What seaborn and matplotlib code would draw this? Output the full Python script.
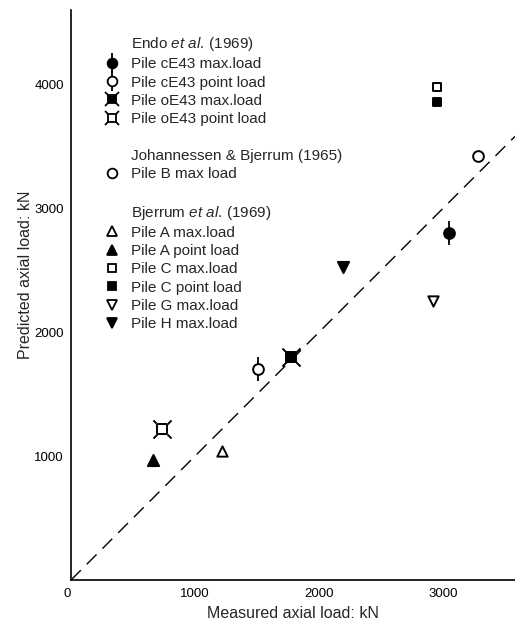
import matplotlib
matplotlib.use("Agg")
import matplotlib.pyplot as plt
import seaborn as sns
import pandas as pd
from matplotlib.lines import Line2D
from matplotlib.legend_handler import HandlerTuple

sns.set_style("white")
plt.rcParams['font.family'] = ['Liberation Sans', 'DejaVu Sans']
plt.rcParams['mathtext.fontset'] = 'custom'
plt.rcParams['mathtext.it'] = 'Liberation Sans:italic'
plt.rcParams['mathtext.rm'] = 'Liberation Sans'

# ---- data ----
series = ["Pile cE43 max.load", "Pile cE43 point load", "Pile oE43 max.load",
          "Pile oE43 point load", "Pile B max load", "Pile A max.load",
          "Pile A point load", "Pile C max.load", "Pile C point load",
          "Pile G max.load", "Pile H max.load"]
measured = [3050, 1510, 1770, 730, 3280, 1220, 660, 2950, 2950, 2920, 2190]
predicted = [2800, 1700, 1800, 1220, 3420, 1040, 970, 3980, 3860, 2250, 2530]
line_x = [0, 3580]
line_y = [0, 3580]
x_ticks = [0, 1000, 2000, 3000]
y_ticks = [1000, 2000, 3000, 4000]
headers = ["Endo $\\mathit{et\\ al.}\\,$(1969)", "Johannessen & Bjerrum (1965)",
           "Bjerrum $\\mathit{et\\ al.}\\,$(1969)"]

df = pd.DataFrame({"series": series, "measured": measured, "predicted": predicted})

# marker styles: (marker, face, overlay marker or None, size)
styles = {
    "Pile cE43 max.load": ("o", "black", "|", 60),
    "Pile cE43 point load": ("o", "white", "|", 60),
    "Pile oE43 max.load": ("s", "black", "x", 60),
    "Pile oE43 point load": ("s", "white", "x", 45),
    "Pile B max load": ("o", "white", None, 60),
    "Pile A max.load": ("^", "white", None, 55),
    "Pile A point load": ("^", "black", None, 65),
    "Pile C max.load": ("s", "white", None, 36),
    "Pile C point load": ("s", "black", None, 36),
    "Pile G max.load": ("v", "white", None, 55),
    "Pile H max.load": ("v", "black", None, 65),
}

fig = plt.figure(figsize=(5.15, 6.22), dpi=100)
ax = fig.add_axes([71/515, 1-580/622, 1-71/515, (580-10)/622])

sns.lineplot(x=line_x, y=line_y, ax=ax, color="black", lw=1.0,
             dashes=False, linestyle=(0, (10, 6)))

for name in series:
    m, face, ov, s = styles[name]
    sub = df[df.series == name]
    if ov == "|":
        sns.scatterplot(data=sub, x="measured", y="predicted", ax=ax, marker="|",
                        s=280, color="black", linewidth=1.3, zorder=3)
    if ov == "x":
        sns.scatterplot(data=sub, x="measured", y="predicted", ax=ax, marker="x",
                        s=170, color="black", linewidth=1.4, zorder=3)
    if ov == "x" and face == "white":
        sns.scatterplot(data=sub, x="measured", y="predicted", ax=ax, marker="s",
                        s=75, facecolor="white", edgecolor="white", linewidth=0, zorder=4)
    sns.scatterplot(data=sub, x="measured", y="predicted", ax=ax, marker=m, s=s,
                    facecolor=face, edgecolor="black", linewidth=1.4, zorder=5)

ax.set_xlim(0, 3580)
ax.set_ylim(0, 4600)
ax.set_xticks(x_ticks)
ax.set_yticks(y_ticks)
ax.set_xticklabels([str(t) for t in x_ticks])
ax.set_yticklabels([str(t) for t in y_ticks])
ax.get_xticklabels()[0].set_horizontalalignment('right')
ax.tick_params(axis='x', direction='in', length=4, width=1, labelsize=9.5, pad=6, colors='black')
ax.tick_params(axis='y', direction='out', length=4, width=1, labelsize=9.5, pad=1, colors='black')
ax.set_xlabel("Measured axial load: kN", fontsize=11.5, labelpad=4)
ax.set_ylabel("Predicted axial load: kN", fontsize=11.5)
ax.yaxis.set_label_coords(-38/444, 0.535)
for sp in ["top", "right"]:
    ax.spines[sp].set_visible(False)
for sp in ["left", "bottom"]:
    ax.spines[sp].set_color("black")
    ax.spines[sp].set_linewidth(1.2)

# legend
def mk(m, face, ms=7):
    return Line2D([], [], marker=m, linestyle="none", markerfacecolor=face,
                  markeredgecolor="black", markeredgewidth=1.3, markersize=ms)

blank = Line2D([], [], linestyle="none", marker="none")

def lg(name):
    m, face, ov, s = styles[name]
    base = mk(m, face, 7 if m != "s" else 6)
    if ov == "|":
        return (Line2D([], [], marker="|", linestyle="none", color="black",
                       markersize=14, markeredgewidth=1.3), base)
    if ov == "x":
        over = Line2D([], [], marker="x", linestyle="none", color="black",
                      markersize=10, markeredgewidth=1.3)
        return (over, base)
    return base

handles = [blank] + [lg(n) for n in series[:4]] + [blank, blank, lg(series[4]), blank, blank] \
          + [lg(n) for n in series[5:]]
labels = [headers[0]] + series[:4] + ["", headers[1], series[4], "", headers[2]] + series[5:]

leg = ax.legend(handles, labels, loc="upper left", bbox_to_anchor=(104/515, 1-35/622),
                bbox_transform=fig.transFigure, frameon=False, fontsize=11,
                handlelength=1.0, handletextpad=0.75, labelspacing=0.28,
                borderpad=0, borderaxespad=0,
                handler_map={tuple: HandlerTuple(ndivide=1, pad=0)})

fig.savefig("out.png", dpi=100)
